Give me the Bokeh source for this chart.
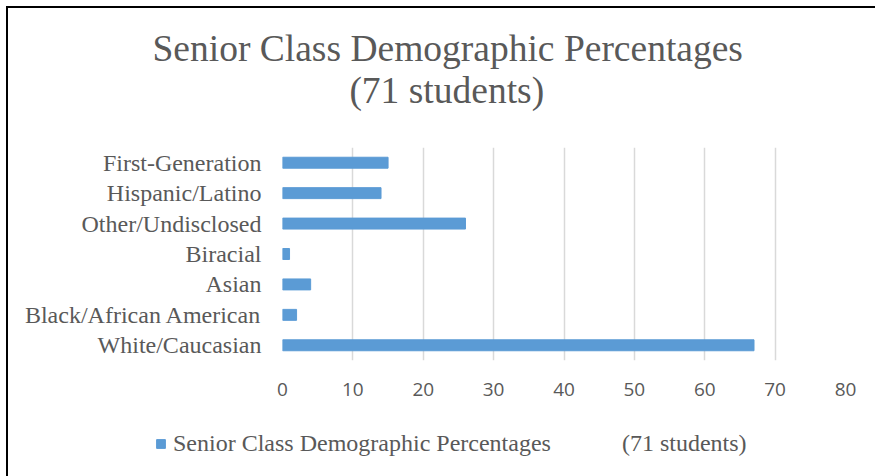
from bokeh.plotting import figure
from bokeh.layouts import column
from bokeh.models import FactorRange, Range1d, FixedTicker, Legend, LegendItem, Title
from bokeh.embed import file_html
from bokeh.resources import INLINE

categories = ["First-Generation", "Hispanic/Latino", "Other/Undisclosed", "Biracial",
              "Asian", "Black/African American", "White/Caucasian"]
values = [15, 14, 26, 1, 4, 2, 67]
x_ticks = [0, 10, 20, 30, 40, 50, 60, 70, 80]
title_line1 = "Senior Class Demographic Percentages"
title_line2 = "(71 students)"
legend_part1 = "Senior Class Demographic Percentages"
legend_part2 = "(71 students)"

TEXT = "#595959"
BLUE = "#5b9bd5"

p = figure(width=867, height=410,
           y_range=FactorRange(factors=list(reversed(categories))),
           x_range=Range1d(0, 80),
           output_backend="svg", toolbar_location=None,
           min_border_left=274, min_border_right=30,
           min_border_top=139, min_border_bottom=58)

# two-line title, second line centred under the first
p.title.text = title_line1 + "\n" + "\u00a0" * 21 + title_line2
p.title.align = "left"
p.title.offset = -130
p.title.standoff = 0
p.title.text_font = "Liberation Serif"
p.title.text_font_size = "37.5px"
p.title.text_font_style = "normal"
p.title.text_line_height = 1.03
p.title.text_color = TEXT

# blank spacer between title and plot area
spacer = Title(text="\u00a0", text_font_size="1px", standoff=33, text_color="white")
p.add_layout(spacer, "above")

r1 = p.hbar(y=categories, right=values, height=0.36, fill_color=BLUE, line_color=BLUE)

xax = p.below[0]
yax = p.left[0]
xax.ticker = FixedTicker(ticks=x_ticks)
p.xgrid.ticker = FixedTicker(ticks=x_ticks)
p.xgrid.grid_line_color = "#d9d9d9"
p.xgrid.grid_line_width = 1.5
p.ygrid.grid_line_color = None
p.outline_line_color = None

for ax in (xax, yax):
    ax.axis_line_color = None
    ax.major_tick_line_color = None
    ax.minor_tick_line_color = None
    ax.major_tick_out = 0
    ax.major_tick_in = 0
    ax.minor_tick_out = 0
    ax.major_label_text_color = TEXT

xax.major_label_text_font = "Open Sans"
xax.major_label_text_font_size = "19px"
xax.major_label_standoff = 22
yax.major_label_text_font = "Liberation Serif"
yax.major_label_text_font_size = "24px"
yax.major_label_standoff = 21

# legend row (its bars lie outside its visible x range; only the legend shows)
lf = figure(width=867, height=58, x_range=Range1d(-2, -1),
            y_range=FactorRange(factors=list(reversed(categories))),
            x_axis_type=None, y_axis_type=None, output_backend="svg",
            toolbar_location=None, min_border=0)
if "frame_align" in lf.properties():
    lf.frame_align = False
    p.frame_align = False
lf.outline_line_color = None
lf.xgrid.visible = False
lf.ygrid.visible = False
g1 = lf.hbar(y=categories, right=values, height=0.36, fill_color=BLUE, line_color=BLUE)
g2 = lf.hbar(y=categories, right=values, height=0.36, fill_alpha=0, line_alpha=0)
legend = Legend(items=[LegendItem(label=legend_part1, renderers=[g1]),
                       LegendItem(label=legend_part2, renderers=[g2])],
                orientation="horizontal", location=(147, 19),
                glyph_width=11, glyph_height=11, label_standoff=7, spacing=53,
                padding=0, margin=0, border_line_alpha=0, background_fill_alpha=0,
                label_text_font="Liberation Serif", label_text_font_size="24px",
                label_text_color=TEXT)
lf.add_layout(legend, "center")

layout = column(p, lf, spacing=0,
                styles={"border-left": "2px solid black", "border-top": "2px solid black",
                        "margin-left": "6px", "margin-top": "6px"})

open("out.html", "w").write(file_html(layout, INLINE))
